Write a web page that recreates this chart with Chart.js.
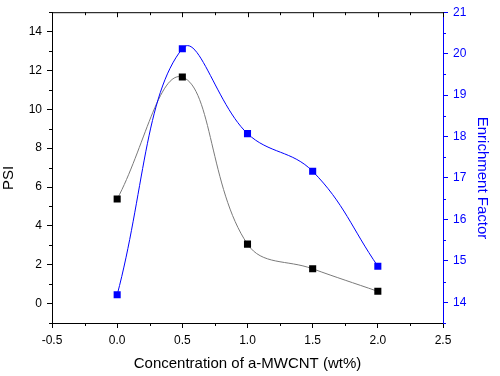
<!DOCTYPE html>
<html>
<head>
<meta charset="utf-8">
<script src="https://cdn.jsdelivr.net/npm/chart.js@4/dist/chart.umd.min.js"></script>
<style>
  html, body { margin: 0; padding: 0; background: #fff; }
  #wrap { width: 500px; height: 376px; }
</style>
</head>
<body>
<div id="wrap"><canvas id="c" width="500" height="376"></canvas></div>
<script>
// data
const concentration = [0, 0.5, 1.0, 1.5, 2.0];
const psiValues = [5.38, 11.66, 3.06, 1.79, 0.63];
const enrichValues = [14.18, 20.12, 18.07, 17.16, 14.87];

const xTicks = [-0.5, 0, 0.5, 1.0, 1.5, 2.0, 2.5];
const psiTicks = [0, 2, 4, 6, 8, 10, 12, 14];
const efTicks = [14, 15, 16, 17, 18, 19, 20, 21];

const FONT = 'Liberation Sans, Arial, sans-serif';
const BLUE = '#0000ff';

// minor ticks, top frame line and top ticks
const frameTicks = {
  id: 'frameTicks',
  afterDraw(chart) {
    const { ctx, chartArea: a, scales } = chart;
    const x = scales.x, yl = scales.y, yr = scales.y1;
    ctx.save();
    ctx.lineWidth = 1;
    ctx.strokeStyle = '#000';
    ctx.beginPath();
    ctx.moveTo(a.left, a.top + 0.5);
    ctx.lineTo(a.right, a.top + 0.5);
    // x ticks: minor below, all on top (inward)
    for (let v = -0.5; v <= 2.5001; v += 0.25) {
      const px = Math.round(x.getPixelForValue(v)) + 0.5;
      const major = Math.abs(v * 2 - Math.round(v * 2)) < 1e-6;
      ctx.moveTo(px, a.top);
      ctx.lineTo(px, a.top + (major ? 5 : 3));
      if (!major) {
        ctx.moveTo(px, a.bottom);
        ctx.lineTo(px, a.bottom + 3);
      }
    }
    // left minor ticks
    for (let v = -1; v <= 15; v += 2) {
      const py = Math.round(yl.getPixelForValue(v)) + 0.5;
      ctx.moveTo(a.left, py);
      ctx.lineTo(a.left - 3, py);
    }
    ctx.stroke();
    // right minor ticks
    ctx.strokeStyle = BLUE;
    ctx.beginPath();
    for (let v = 13.5; v <= 21; v += 1) {
      const py = Math.round(yr.getPixelForValue(v)) + 0.5;
      ctx.moveTo(a.right, py);
      ctx.lineTo(a.right + 3, py);
    }
    ctx.stroke();
    ctx.restore();
  }
};

const fixTicks = arr => scale => { scale.ticks = arr.map(v => ({ value: v })); };

new Chart(document.getElementById('c'), {
  type: 'line',
  data: {
    datasets: [
      {
        label: 'Enrichment Factor',
        data: concentration.map((c, i) => ({ x: c, y: enrichValues[i] })),
        yAxisID: 'y1',
        borderColor: BLUE,
        borderWidth: 1,
        backgroundColor: BLUE,
        pointStyle: 'rect',
        pointRadius: 5,
        pointBorderWidth: 0,
        tension: 0.4
      },
      {
        label: 'PSI',
        data: concentration.map((c, i) => ({ x: c, y: psiValues[i] })),
        yAxisID: 'y',
        borderColor: '#7a7a7a',
        borderWidth: 1,
        backgroundColor: '#000',
        pointStyle: 'rect',
        pointRadius: 5,
        pointBorderWidth: 0,
        tension: 0.4
      }
    ]
  },
  options: {
    responsive: false,
    animation: false,
    layout: { padding: { top: 12, left: 0, right: 0, bottom: 2 } },
    plugins: { legend: { display: false }, tooltip: { enabled: false } },
    scales: {
      x: {
        type: 'linear',
        min: -0.5,
        max: 2.5,
        afterBuildTicks: fixTicks(xTicks),
        afterFit: s => { s.height = 51; },
        grid: { drawOnChartArea: false, tickLength: 5, color: '#000' },
        border: { color: '#000', width: 1 },
        ticks: {
          padding: 5,
          color: '#000',
          font: { family: FONT, size: 12 },
          maxRotation: 0,
          callback: v => v.toFixed(1)
        },
        title: {
          display: true,
          text: 'Concentration of a-MWCNT (wt%)',
          color: '#000',
          font: { family: FONT, size: 15 },
          padding: { top: 0, bottom: 1 }
        }
      },
      y: {
        position: 'left',
        min: -1,
        max: 15,
        afterBuildTicks: fixTicks(psiTicks),
        afterFit: s => { s.width = 52; },
        grid: { drawOnChartArea: false, tickLength: 5, color: '#000' },
        border: { color: '#000', width: 1 },
        ticks: {
          padding: 5,
          color: '#000',
          font: { family: FONT, size: 12 }
        },
        title: {
          display: true,
          // trailing spaces nudge the rotated title a little lower, as in the original
          text: 'PSI     ',
          color: '#000',
          font: { family: FONT, size: 15 },
          padding: { top: 0, bottom: 0 }
        }
      },
      y1: {
        position: 'right',
        min: 13.5,
        max: 21,
        afterBuildTicks: fixTicks(efTicks),
        afterFit: s => { s.width = 57; },
        grid: { drawOnChartArea: false, tickLength: 5, color: BLUE },
        border: { color: BLUE, width: 1 },
        ticks: {
          padding: 5,
          color: BLUE,
          font: { family: FONT, size: 12 }
        },
        title: {
          display: true,
          text: '     Enrichment Factor',
          color: BLUE,
          font: { family: FONT, size: 15 },
          padding: { top: 9, bottom: 0 }
        }
      }
    }
  },
  plugins: [frameTicks]
});
</script>
</body>
</html>
